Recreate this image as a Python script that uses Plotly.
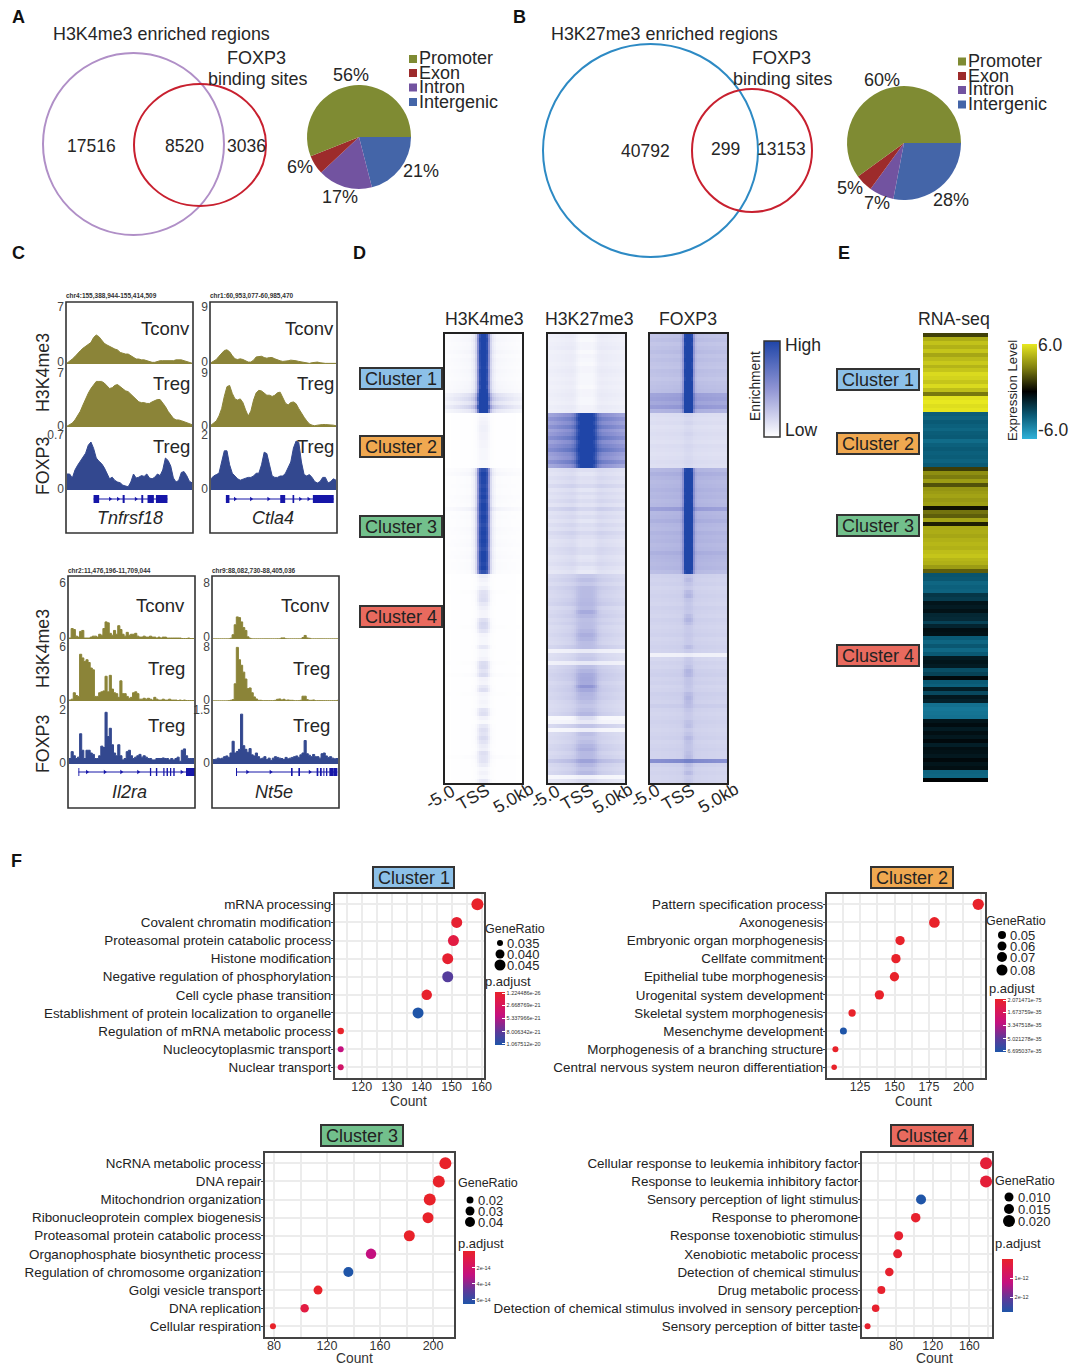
import plotly.graph_objects as go

W, H = 1080, 1370
FONT = "Liberation Sans"
INK = "#262626"

# ---------- panel A / B ----------
pie_labels = ["Intergenic", "Intron", "Exon", "Promoter"]
pie_colors = ["#4465a8", "#7253a0", "#9d2b2b", "#7f8b33"]
pie_a = [21, 17, 6, 56]
pie_b = [28, 7, 5, 60]
venn_a = ["17516", "8520", "3036"]
venn_b = ["40792", "299", "13153"]

# ---------- panel C tracks ----------
t1_tconv = [0.1,0.3,0.6,0.9,1.3,1.6,1.9,2.1,2.3,2.6,3.2,3.5,3.3,2.9,2.5,2.3,2.1,2.0,1.8,1.7,1.4,1.3,1.2,1.2,1.0,0.7,0.6,0.6,0.5,0.5,0.4,0.3,0.2,0.2,0.3,0.4,0.4,0.4,0.4,0.4,0.4,0.5,0.5,0.5,0.4,0.3,0.2,0.1]
t1_treg = [0.1,0.3,0.5,0.9,1.4,2.0,2.8,3.6,4.3,4.9,5.4,5.8,5.8,5.8,5.6,5.2,4.9,5.0,5.3,5.4,5.1,4.8,4.6,4.5,4.2,3.9,3.5,3.2,3.1,3.1,3.0,3.0,3.2,3.4,3.5,3.5,3.1,2.6,2.0,1.5,1.1,0.9,0.9,0.8,0.7,0.6,0.4,0.3]
t1_fox = [.20,.20,.15,.25,.31,.36,.40,.46,.56,.60,.52,.40,.36,.33,.28,.20,.14,.16,.12,.10,.09,.06,.05,.04,.10,.20,.15,.16,.18,.17,.20,.15,.14,.16,.20,.18,.25,.40,.37,.30,.15,.10,.12,.22,.23,.18,.11,.09]
t2_tconv = [0.2,0.4,0.7,1.2,1.7,2.1,2.2,1.9,1.3,0.8,0.7,0.8,0.7,0.5,0.3,0.3,0.6,1.1,1.2,1.2,1.0,0.9,1.0,1.0,0.8,0.6,0.5,0.4,0.4,0.5,0.6,0.6,0.5,0.4,0.3,0.2,0.1,0.1,0.2,0.3,0.3,0.2,0.1,0.1,0.1,0.1,0.1,0.1]
t2_treg = [0.3,0.6,1.0,1.8,3.0,5.0,6.6,6.8,5.5,4.6,4.4,4.6,4.0,2.8,1.8,2.6,4.4,5.6,6.0,5.9,5.5,5.2,5.2,5.0,5.2,5.6,5.7,4.8,3.9,3.6,4.0,4.1,3.8,3.0,2.2,1.6,1.0,0.5,0.3,0.2,0.3,0.4,0.4,0.4,0.4,0.3,0.3,0.2]
t2_fox = [0.4,0.5,0.55,0.6,1.0,1.4,1.4,0.9,0.6,0.5,0.4,0.35,0.4,0.42,0.45,0.45,0.5,0.6,0.6,0.9,1.35,1.3,0.9,0.5,0.45,0.45,0.5,0.5,0.6,0.8,1.0,1.5,1.75,1.7,1.0,0.55,0.5,0.55,0.45,0.3,0.25,0.3,0.45,0.45,0.25,0.3,0.4,0.35]
t3_tconv = [0.1,1.1,1.0,0.3,0.2,0.8,0.9,0.1,0.1,0.1,0.2,0.3,0.3,0.2,0.5,0.4,1.1,1.8,1.7,0.6,0.4,0.9,0.5,1.4,1.0,0.5,0.3,0.7,0.4,0.5,0.5,0.6,0.3,0.2,0.2,0.3,0.2,0.2,0.3,0.2,0.2,0.1,0.2,0.1,0.2,0.2,0.1,0.1,0.1,0.1,0.1,0.1,0.1,0.05,0.05,0.05,0.1,0.05,0.05,0.05]
t3_treg = [0.1,0.2,0.9,0.6,0.5,5.1,4.7,4.3,4.5,4.2,3.6,3.4,0.5,0.5,0.9,1.0,1.1,2.7,1.0,2.8,1.3,0.9,0.8,0.4,2.2,0.8,0.8,0.5,0.3,0.4,0.9,1.0,0.8,0.2,0.2,0.3,0.2,0.3,0.2,0.1,0.4,0.2,0.1,0.1,0.2,0.1,0.1,0.2,0.1,0.1,0.1,0.05,0.1,0.05,0.1,0.05,0.05,0.05,0.05,0.1]
t3_fox = [0.2,0.45,0.3,0.2,0.25,1.1,0.5,0.2,0.5,0.5,0.4,0.35,0.2,0.2,0.3,0.65,0.6,1.88,1.0,1.3,0.7,0.4,0.3,0.7,0.3,0.15,0.2,0.45,0.5,0.3,0.2,0.25,0.3,0.35,0.25,0.3,0.25,0.2,0.2,0.15,0.15,0.2,0.2,0.2,0.22,0.2,0.2,0.15,0.2,0.15,0.2,0.25,0.1,0.5,0.55,0.3,0.2,0.2,0.2,0.15]
t4_tconv = [.02,.02,.02,.02,.02,.02,.02,.02,.1,.6,2.0,3.1,3.0,2.4,1.6,1.2,.3,.1,.02,.02,.02,.02,.02,.02,.02,.02,.02,.02,.02,.02,.03,.03,.15,.15,.03,.02,.02,.02,.02,.02,.02,.02,.2,.5,.15,.1,.02,.02,.02,.02,.02,.02,.02,.02,.02,.02,.02,.02,.02,.02]
t4_treg = [.02,.02,.02,.02,.02,.02,.02,.05,.1,.2,2.5,7.8,6.0,5.2,4.2,3.2,1.8,1.9,1.2,.6,.3,.1,.1,.05,.05,.05,.05,.05,.05,.1,.25,.3,.15,.25,.1,.15,.1,.1,.05,.05,.05,.1,.7,.7,.2,.1,.1,.15,.05,.05,.05,.05,.05,.05,.05,.05,.05,.05,.05,.2]
t4_fox = [.12,.13,.16,.14,.16,.2,.22,.18,.3,.62,.3,.34,.4,1.36,.5,.4,.32,.42,.25,.22,.3,.2,.14,.16,.2,.12,.16,.1,.16,.2,.18,.16,.15,.12,.18,.14,.16,.18,.2,.22,.18,.25,.3,.64,.28,.24,.2,.26,.2,.2,.16,.28,.3,.22,.18,.2,.16,.14,.15,.12]

genes = {
    "Tnfrsf18": dict(exons=[(21.7,26.1),(44.6,46.2),(59.3,60.8),(64.2,69.2),(70.8,79.9)], arrows=[34.7,41,55]),
    "Ctla4": dict(exons=[(12.5,15.3),(55.3,59.2),(65,66.3),(81,97.4)], arrows=[19.7,32.4,46,71,77.6]),
    "Il2ra": dict(exons=[(8.2,8.9),(64.5,65.5),(69.2,70.3),(75,76),(77.6,78.7),(80.3,81.3),(82.9,84),(92.9,100)], arrows=[15,29,42,55.3,89.5]),
    "Nt5e": dict(exons=[(18.9,19.7),(62.2,63.5),(68,69.3),(82.4,83.7),(85,86.4),(87.7,88.5),(89.8,90.8),(92.4,95.5),(95.5,98.7)], arrows=[27.8,46.2,77]),
}
track_max = {"p1": (7, 7, 0.7), "p2": (9, 9, 2), "p3": (6, 6, 2), "p4": (8, 8, 1.5)}

# ---------- panel D heatmaps: row background / row peak (percent), top to bottom ----------
k4_bg = [8,9,7,8,10,7,9,8,7,9,8,7,9,10,12,30,38,26,44,22,
         1,1,1,1,1,1,1,1,1,1,1,1,1,1,
         6,9,4,4,5,4,4,6,5,4,12,4,5,4,4,6,5,4,5,6,4,5,6,4,5,5,4,
         1,1,1,1,2,1,1,1,1,1,1,1,1,2,1,1,1,1,1,1,1,1,2,1,1,3,1,1,1,1,2,1,1,1,1,1,1,1,1,1,1,1,1,1,1,1,3,1,1,1,1,1,1]
k4_pk = [92,96,95,94,96,97,95,94,92,96,95,94,96,90,96,95,97,95,96,94,
         3,4,5,6,6,5,5,4,4,3,3,3,2,2,
         88,92,94,95,90,95,92,94,90,96,88,92,95,94,90,92,95,94,96,92,90,95,94,96,92,95,88,
         8,5,3,6,12,14,15,10,6,4,4,14,18,16,12,4,3,3,10,3,3,5,14,16,12,14,5,4,10,14,3,3,4,3,12,14,5,2,10,14,12,16,12,8,6,14,10,12,8,3,5,3,10]
k27_bg = [10,9,10,11,9,10,10,9,10,11,10,9,10,9,10,11,10,9,11,10,
          58,68,60,70,58,64,74,60,68,76,62,58,70,56,
          19,17,20,18,23,17,20,18,21,17,25,18,20,17,21,18,23,20,17,18,21,20,17,18,20,17,15,
          23,25,22,26,24,23,25,27,22,24,26,23,25,22,23,25,23,22,26,8,20,21,9,24,26,28,27,24,26,27,25,26,23,22,23,25,4,6,24,5,22,23,22,25,26,23,25,34,25,23,25,5,15]
k27_pk = [-6,-6,-5,-6,-6,-5,-6,-6,-5,-6,-6,-5,-6,-6,-5,-6,-6,-5,-5,-4,
          44,38,42,36,44,40,32,42,36,30,42,44,36,44,
          -4,-5,-5,-4,-5,-5,-4,-5,-5,-4,-6,-5,-4,-5,-5,-4,-5,-5,-4,-5,-5,-4,-5,-5,-4,-5,-5,
          3,5,4,6,8,9,8,7,10,16,8,7,6,9,11,13,12,9,5,2,4,5,2,6,9,12,14,16,24,14,10,8,7,5,7,9,12,5,4,3,8,4,8,10,12,10,8,10,9,6,8,2,3]
fx_bg = [30,32,29,31,33,30,32,30,29,32,31,29,31,32,33,46,48,44,50,38,
         17,16,17,15,16,17,16,15,17,16,15,16,17,16,
         36,40,37,35,36,38,36,37,35,36,48,36,37,40,36,35,38,36,37,35,36,40,37,36,35,36,33,
         23,22,23,21,22,23,22,21,23,22,21,23,22,21,22,23,21,22,23,22,7,20,22,21,23,24,22,23,21,22,24,23,22,25,22,21,22,23,22,21,22,23,21,22,23,22,22,58,23,21,22,21,21]
fx_pk = [88,92,90,92,88,90,92,88,90,92,90,88,92,90,88,84,86,82,85,86,
         3,2,3,2,2,3,2,2,2,2,2,2,2,2,
         80,84,88,86,84,85,82,88,84,86,80,84,88,85,84,86,88,84,86,85,88,84,86,90,86,88,82,
         6,10,5,4,10,12,6,5,4,4,10,12,8,4,3,3,4,3,8,3,2,5,4,8,12,10,6,5,6,4,8,12,10,6,5,4,3,6,8,4,6,10,8,6,5,8,10,4,8,6,10,4,5]
edge_k4 = [.18,.2,.22,.24,.26,.28,.3,.32,.35,.38,.41,.44,.47,.5,.55,.6,.7,.85,1,1,1,1,1,.85,.7,.6,.55,.5,.47,.44,.41,.38,.35,.32,.3,.28,.26,.24,.22,.2,.18]
edge_k27 = [.72,.74,.75,.77,.78,.8,.82,.84,.86,.88,.9,.92,.94,.95,.96,.97,.98,.99,1,1,1,1,1,.99,.98,.97,.96,.95,.94,.92,.9,.88,.86,.84,.82,.8,.78,.77,.75,.74,.72]
edge_fx = [.92,.92,.92,.93,.93,.93,.94,.94,.95,.95,.96,.96,.97,.97,.98,.98,.99,.99,1,1,1,1,1,.99,.99,.98,.98,.97,.97,.96,.96,.95,.95,.94,.94,.93,.93,.93,.92,.92,.92]
core_k4 = [0,0,0,0,0,0,0,0,0,0,0,0,0,0,.02,.05,.15,.5,.9,1,1,1,.9,.5,.15,.05,.02,0,0,0,0,0,0,0,0,0,0,0,0,0,0]
core_k27 = [0,0,0,0,0,0,0,0,0,0,0,0,.03,.08,.25,.6,.85,1,1,1,1,1,1,1,.85,.6,.25,.08,.03,0,0,0,0,0,0,0,0,0,0,0,0]
core_fx = [0,0,0,0,0,0,0,0,0,0,0,0,0,0,0,0,.03,.2,.75,1,1,1,.75,.2,.03,0,0,0,0,0,0,0,0,0,0,0,0,0,0,0,0]

# ---------- panel E ----------
rna_z = [1.5,4.3,4.9,4.4,5.0,4.1,4.7,5.1,4.5,5.0,5.6,5.4,5.0,5.6,4.8,2.8,5.8,6.0,5.7,5.9,
         -3.1,-3.3,-3.0,-3.2,-3.4,-3.1,-3.0,-3.6,-3.2,-3.0,-3.2,-3.1,-3.3,-3.0,
         1.4,3.4,2.9,3.8,1.9,3.6,3.8,4.0,3.7,3.9,0.4,2.7,2.2,4.0,0.7,4.2,4.3,4.1,4.4,4.6,4.4,4.8,5.0,4.6,4.4,3.8,2.2,
         -2.8,-2.9,-3.4,-3.2,-3.3,-1.8,-2.0,-0.7,-0.9,-0.6,-1.3,-1.4,-2.2,-1.2,-0.5,-0.6,-3.0,-3.4,-2.9,-3.5,-3.0,-0.9,-0.7,-0.9,-2.6,-2.2,-0.3,-3.0,-3.2,-1.0,-2.4,-0.8,-1.1,-3.8,-4.0,-3.9,-3.8,-0.7,-0.4,-0.9,-0.5,-0.8,-0.3,-1.0,-0.5,-0.6,-0.8,-0.3,-0.7,-0.5,-3.3,-3.4,-0.1]

# ---------- panel F ----------
c1_terms = ["mRNA processing","Covalent chromatin modification","Proteasomal protein catabolic process","Histone modification","Negative regulation of phosphorylation","Cell cycle phase transition","Establishment of protein localization to organelle","Regulation of mRNA metabolic process","Nucleocytoplasmic transport","Nuclear transport"]
c1_count = [158.6,151.7,150.6,148.7,148.7,141.7,138.8,113,113,113]
c1_size = [12,11,11,11,11,10.5,11,6.5,6,6]
c1_col = [1,.97,.88,.97,.22,.99,0,1,.55,.68]
c2_terms = ["Pattern specification process","Axonogenesis","Embryonic organ morphogenesis","Cellfate commitment","Epithelial tube morphogenesis","Urogenital system development","Skeletal system morphogenesis","Mesenchyme development","Morphogenesis of a branching structure","Central nervous system neuron differentiation"]
c2_count = [210.7,178.9,154,151,149.9,139,119.2,112.9,107.1,106.2]
c2_size = [11.3,10.7,9.3,9.3,9.3,9.3,7.3,7,6,5.5]
c2_col = [1,1,1,1,1,1,1,0,1,1]
c3_terms = ["NcRNA metabolic process","DNA repair","Mitochondrion organization","Ribonucleoprotein complex biogenesis","Proteasomal protein catabolic process","Organophosphate biosynthetic process","Regulation of chromosome organization","Golgi vesicle transport","DNA replication","Cellular respiration"]
c3_count = [209.3,204.3,197.5,196.2,182.1,153.2,136.1,113.2,103.1,79.2]
c3_size = [12,12,12,11,11,10.5,10,9,8.5,6]
c3_col = [1,1,1,1,1,.55,0,1,.88,1]
c4_terms = ["Cellular response to leukemia inhibitory factor","Response to leukemia inhibitory factor","Sensory perception of light stimulus","Response to pheromone","Response toxenobiotic stimulus","Xenobiotic metabolic process","Detection of chemical stimulus","Drug metabolic process","Detection of chemical stimulus involved in sensory perception","Sensory perception of bitter taste"]
c4_count = [178.2,178.2,107.3,101.5,82.9,81.8,72.7,64,57.8,49]
c4_size = [12,12,10,9.5,9,9,8.5,8,7.5,6]
c4_col = [.93,.93,0,.98,.97,.97,.98,.98,.98,.98]

ratio_c1 = ["0.035","0.040","0.045"]
ratio_c2 = ["0.05","0.06","0.07","0.08"]
ratio_c3 = ["0.02","0.03","0.04"]
ratio_c4 = ["0.010","0.015","0.020"]
padj_c1 = ["1.067512e-20","8.006342e-21","5.337966e-21","2.668769e-21","1.224486e-26"]
padj_c2 = ["6.695037e-35","5.021278e-35","3.347518e-35","1.673759e-35","2.071471e-75"]
padj_c3 = ["6e-14","4e-14","2e-14"]
padj_c4 = ["2e-12","1e-12"]

CL = {1: "#8cc0e8", 2: "#f0a850", 3: "#72c08c", 4: "#e96a5e"}
DOT_SCALE = [[0, "#1f55a8"], [.25, "#5c3a9a"], [.55, "#c4107f"], [.85, "#e01a48"], [1, "#e8222a"]]
BLUE_SCALE = [[0, "#ffffff"], [.5, "#9095d4"], [1, "#1f45a8"]]
EXPR_SCALE = [[0, "#2fb2da"], [.25, "#0a5a75"], [.5, "#000000"], [.75, "#80800f"], [1, "#e8e820"]]

fig = go.Figure()
shapes, annots = [], []
axn = [0]


def X(x):
    return x / W


def Y(y):
    return 1 - y / H


def T(x, y, text, size=17, anchor="center", color=INK, angle=0, bold=False, italic=False):
    t = text
    if bold:
        t = f"<b>{t}</b>"
    if italic:
        t = f"<i>{t}</i>"
    if anchor == "left":
        x -= 2
    elif anchor == "right":
        x += 2
    annots.append(dict(x=X(x), y=Y(y), xref="paper", yref="paper", text=t, showarrow=False,
                       xanchor=anchor, yanchor="middle", textangle=angle,
                       font=dict(family=FONT, size=size, color=color)))


def rect(x0, y0, x1, y1, fill=None, line="#333", lw=1.5):
    shapes.append(dict(type="rect", xref="paper", yref="paper", x0=X(x0), x1=X(x1), y0=Y(y0), y1=Y(y1),
                       fillcolor=fill or "rgba(0,0,0,0)", line=dict(color=line, width=lw), layer="above"))


def circ(x0, y0, x1, y1, color, lw=2, fill=None):
    shapes.append(dict(type="circle", xref="paper", yref="paper", x0=X(x0), x1=X(x1), y0=Y(y0), y1=Y(y1),
                       fillcolor=fill or "rgba(0,0,0,0)", line=dict(color=color, width=lw), layer="above"))


def axes(x0, y0, x1, y1, xa=None, ya=None):
    axn[0] += 1
    n = axn[0]
    xd = dict(domain=[X(x0), X(x1)], anchor=f"y{n}", visible=False)
    yd = dict(domain=[Y(y1), Y(y0)], anchor=f"x{n}", visible=False)
    xd.update(xa or {})
    yd.update(ya or {})
    fig.layout[f"xaxis{n}"] = xd
    fig.layout[f"yaxis{n}"] = yd
    return f"x{n}", f"y{n}"


def label(x0, y0, x1, y1, k):
    rect(x0, y0, x1, y1, fill=CL[k], line="#333", lw=2)
    T((x0 + x1) / 2, (y0 + y1) / 2 + .5, f"Cluster {k}", 18, color="#222")


# ---------- A, B ----------
T(18, 17, "A", 18, bold=True, color="#111")
T(519, 17, "B", 18, bold=True, color="#111")
T(53, 34, "H3K4me3 enriched regions", 17.9, anchor="left")
T(256, 58, "FOXP3", 18)
T(258, 79, "binding sites", 17.9)
circ(43, 53, 224, 235, "#b08fc7")
circ(134, 84, 266, 206, "#c8202f")
T(91, 146, venn_a[0], 17.5)
T(184, 146, venn_a[1], 17.5)
T(246, 146, venn_a[2], 17.5)
T(551, 34, "H3K27me3 enriched regions", 17.9, anchor="left")
T(781, 58, "FOXP3", 18)
T(783, 79, "binding sites", 17.9)
circ(543, 44, 758, 257, "#2d8ac4")
circ(692, 89, 812, 212, "#c8202f")
T(645, 151, venn_b[0], 17.5)
T(725, 149, venn_b[1], 17.5)
T(781, 149, venn_b[2], 17.5)


def pie(vals, x0, y0, x1, y1):
    fig.add_trace(go.Pie(values=vals, labels=pie_labels, sort=False, direction="clockwise", rotation=90,
                         textinfo="none", hoverinfo="label+percent", showlegend=False,
                         marker=dict(colors=pie_colors, line=dict(width=0)),
                         domain=dict(x=[X(x0), X(x1)], y=[Y(y1), Y(y0)])))


pie(pie_a, 307, 85, 411, 189)
pie(pie_b, 847, 86, 961, 200)
for tx, ty, s in [(351, 75, "56%"), (300, 167, "6%"), (340, 197, "17%"), (421, 171, "21%"),
                  (882, 80, "60%"), (850, 188, "5%"), (877, 203, "7%"), (951, 200, "28%")]:
    T(tx, ty, s, 18)
for lx, tops in [(409, (59, 73, 87.5, 102)), (958, (61.5, 76, 90, 104.5))]:
    for name, col, ly in zip(["Promoter", "Exon", "Intron", "Intergenic"],
                             ["#7f8b33", "#9d2b2b", "#7253a0", "#4465a8"], tops):
        rect(lx, ly - 4, lx + 8, ly + 4, fill=col, line=col, lw=0)
        T(lx + 10, ly - .5, name, 18, anchor="left")

# ---------- C ----------
T(18, 253, "C", 18, bold=True, color="#111")
OLIVE, NAVY = "#8b8438", "#33488f"


def track(x0, x1, top, base, vals, vmax, color, shape):
    xa, ya = axes(x0, top, x1, base,
                  xa=dict(range=[0, len(vals) - 1]),
                  ya=dict(visible=True, range=[0, vmax], tickvals=[vmax * .03, vmax * .98], ticktext=["0", str(vmax)],
                          showgrid=False, zeroline=False, showline=False, ticks="", ticklabelstandoff=2,
                          tickfont=dict(family=FONT, size=12, color="#444")))
    fig.add_trace(go.Scatter(x=list(range(len(vals))), y=vals, xaxis=xa, yaxis=ya, mode="lines",
                             line=dict(color=color, width=1, shape=shape), fill="tozeroy", fillcolor=color,
                             showlegend=False, hoverinfo="skip"))


def gene(x0, x1, gy, name):
    g = genes[name]
    xa, ya = axes(x0, gy - 6, x1, gy + 6, xa=dict(range=[0, 100]), ya=dict(range=[-1, 1]))
    col = "#1616a8"
    fig.add_trace(go.Scatter(x=[g["exons"][0][0], g["exons"][-1][1]], y=[0, 0], xaxis=xa, yaxis=ya, mode="lines",
                             line=dict(color=col, width=1), showlegend=False, hoverinfo="skip"))
    ex, ey = [], []
    for a, b in g["exons"]:
        ex += [a, b, None]
        ey += [0, 0, None]
    fig.add_trace(go.Scatter(x=ex, y=ey, xaxis=xa, yaxis=ya, mode="lines",
                             line=dict(color=col, width=8), showlegend=False, hoverinfo="skip"))
    fig.add_trace(go.Scatter(x=g["arrows"], y=[0] * len(g["arrows"]), xaxis=xa, yaxis=ya, mode="markers",
                             marker=dict(symbol="triangle-right", size=4, color=col, opacity=1), showlegend=False, hoverinfo="skip"))


panels = [
    (66, 193, 302, 533, "chr4:155,388,944-155,414,509", "Tnfrsf18", (t1_tconv, t1_treg, t1_fox), track_max["p1"],
     [(306, 364), (372, 427), (434, 490)], 499, 518, "linear", 296, (328, 383, 447), 3, 130),
    (210, 337, 302, 533, "chr1:60,953,077-60,985,470", "Ctla4", (t2_tconv, t2_treg, t2_fox), track_max["p2"],
     [(306, 364), (372, 427), (434, 490)], 499, 518, "linear", 296, (328, 383, 447), 3, 273),
    (68, 195, 576, 808, "chr2:11,476,196-11,709,044", "Il2ra", (t3_tconv, t3_treg, t3_fox), track_max["p3"],
     [(582, 639), (646, 701), (709, 764)], 772, 792, "hv", 571, (606, 668, 725), 10, 129),
    (212, 339, 576, 808, "chr9:88,082,730-88,405,036", "Nt5e", (t4_tconv, t4_treg, t4_fox), track_max["p4"],
     [(582, 639), (646, 701), (709, 764)], 772, 792, "hv", 571, (606, 668, 725), 9, 274),
]
for x0, x1, y0, y1, coord, gname, vals, vm, spans, gy, ty, shp, cy, lab_y, inset, gx in panels:
    for v, m, (a, b), c in zip(vals, vm, spans, (OLIVE, OLIVE, NAVY)):
        track(x0 + 1, x1 - 1, a, b, v, m, c, shp)
    gene(x0, x1, gy, gname)
    rect(x0, y0, x1, y1, line="#333", lw=1.6)
    T(x0, cy, coord, 6.5, anchor="left", bold=True, color="#333")
    T(gx, ty, gname, 18, italic=True)
    for ly, s in zip(lab_y, ("Tconv", "Treg", "Treg")):
        T(x1 - inset, ly, s, 18.5, anchor="right")
T(43, 373, "H3K4me3", 17.8, angle=-90)
T(43, 466, "FOXP3", 17.8, angle=-90)
T(43, 649, "H3K4me3", 17.8, angle=-90)
T(43, 744, "FOXP3", 17.8, angle=-90)

# ---------- D ----------
T(359, 253, "D", 18, bold=True, color="#111")
frame = dict(visible=True, showline=True, mirror=True, linecolor="#222", linewidth=2, showticklabels=False,
             ticks="", showgrid=False, zeroline=False)


def heat(x0, x1, bg, pk, edge, core, head, hx, ticks, scale=False):
    z = [[min(100, max(0, b * e + p * c)) / 100 for e, c in zip(edge, core)] for b, p in zip(bg, pk)]
    xa, ya = axes(x0, 334, x1, 783, xa=dict(frame, range=[-.5, 40.5]),
                  ya=dict(frame, range=[len(bg) - .5, -.5]))
    cb = dict(x=X(764), xanchor="left", xpad=0, thickness=16, lenmode="pixels", len=96, y=Y(341), yanchor="top",
              ypad=0, outlinecolor="#333", outlinewidth=1.5, showticklabels=False, ticks="")
    fig.add_trace(go.Heatmap(z=z, xaxis=xa, yaxis=ya, colorscale=BLUE_SCALE, zmin=0, zmax=1,
                             showscale=scale, colorbar=cb, hoverinfo="skip"))
    T(hx, 319, head, 17.7)
    for (tx, ty), s in zip(ticks, ["-5.0", "TSS", "5.0kb"]):
        T(tx, ty, s, 17.5, angle=-30)


heat(445, 522, k4_bg, k4_pk, edge_k4, core_k4, "H3K4me3", 484, [(440, 797), (473, 797), (513, 798)], scale=True)
heat(548, 625, k27_bg, k27_pk, edge_k27, core_k27, "H3K27me3", 589, [(545, 797), (577, 797), (613, 798)])
heat(650, 727, fx_bg, fx_pk, edge_fx, core_fx, "FOXP3", 688, [(645, 796), (678, 797), (718, 798)])
for k, (a, b) in zip((1, 2, 3, 4), [(368, 389), (436, 457), (516, 537), (606, 627)]):
    label(360, a, 442, b, k)
T(755, 386, "Enrichment", 13.8, angle=-90)
T(785, 345, "High", 17.5, anchor="left")
T(785, 430, "Low", 17.5, anchor="left")

# ---------- E ----------
T(844, 253, "E", 18, bold=True, color="#111")
xa, ya = axes(923, 333, 988, 782, xa=dict(range=[-.5, .5]), ya=dict(range=[len(rna_z) - .5, -.5]))
fig.add_trace(go.Heatmap(z=[[v] for v in rna_z], xaxis=xa, yaxis=ya, colorscale=EXPR_SCALE, zmin=-6, zmax=6,
                         hoverinfo="skip",
                         colorbar=dict(x=X(1022), xanchor="left", xpad=0, thickness=15, lenmode="pixels", len=95,
                                       y=Y(344), yanchor="top", ypad=0, outlinewidth=0, showticklabels=False, ticks="")))
T(954, 319, "RNA-seq", 17.7)
T(1012, 391, "Expression Level", 13.3, angle=-90)
T(1038, 345, "6.0", 17.5, anchor="left")
T(1038, 430, "-6.0", 17.5, anchor="left")
for k, (a, b) in zip((1, 2, 3, 4), [(369, 390), (433, 454), (515, 536), (645, 666)]):
    label(837, a, 919, b, k)

# ---------- F ----------
T(16, 861, "F", 18, bold=True, color="#111")


def dotplot(box, xr, major, terms, counts, sizes, cols, cbox, tickv, tickt, k, lab_box, count_xy):
    x0, y0, x1, y1 = box
    xa, ya = axes(x0, y0, x1, y1,
                  xa=dict(visible=True, range=xr, tickvals=major, showgrid=True, gridcolor="#ececec", gridwidth=2,
                          zeroline=False, showline=True, mirror=True, linecolor="#444", linewidth=2,
                          ticks="outside", ticklen=2, tickcolor="#444", ticklabelstandoff=-6,
                          tickfont=dict(family=FONT, size=12.5, color="#333"),
                          minor=dict(dtick=(major[1] - major[0]) / 2, tick0=major[0], showgrid=True, gridcolor="#ececec", gridwidth=2, ticks="")),
                  ya=dict(visible=True, type="category", categoryorder="array", categoryarray=terms,
                          range=[9.59, -.57], showgrid=True, gridcolor="#ececec", gridwidth=2, zeroline=False,
                          showline=True, mirror=True, linecolor="#444", linewidth=2,
                          ticks="outside", ticklen=2, tickcolor="#444", ticklabelstandoff=-3,
                          tickfont=dict(family=FONT, size=13.4, color="#222")))
    cx0, cy0, cx1, cy1 = cbox
    fig.add_trace(go.Scatter(x=counts, y=terms, xaxis=xa, yaxis=ya, mode="markers", cliponaxis=False,
                             showlegend=False,
                             marker=dict(size=sizes, color=cols, cmin=0, cmax=1, colorscale=DOT_SCALE, opacity=1,
                                         line=dict(width=0), showscale=True,
                                         colorbar=dict(x=X(cx0), xanchor="left", xpad=0, thickness=cx1 - cx0,
                                                       lenmode="pixels", len=cy1 - cy0, y=Y(cy0), yanchor="top", ypad=0,
                                                       outlinewidth=0, tickvals=tickv, ticktext=tickt, ticks="inside",
                                                       ticklen=3, tickcolor="white",
                                                       tickfont=dict(family=FONT, size=5.5, color="#333")))))
    label(*lab_box, k)
    T(count_xy[0], count_xy[1] + 1, "Count", 13.8, color="#333")


def ratio_key(gx, gy, dx, ys, rs, lx, labs, px, py):
    T(gx, gy, "GeneRatio", 12.5)
    for yy, r, s in zip(ys, rs, labs):
        circ(dx - r, yy - r, dx + r, yy + r, "#000", lw=0, fill="#000")
        T(lx, yy + .5, s, 13, anchor="left")
    T(px, py, "p.adjust", 13)


dotplot((335, 894, 484, 1078), [111.1, 160.8], [120, 130, 140, 150, 160], c1_terms, c1_count, c1_size, c1_col,
        (495, 992, 505, 1045), [.02, .25, .5, .75, .98], padj_c1, 1, (373, 867, 454, 888), (408, 1100))
ratio_key(515, 929, 500, [943, 954, 965], [3, 4.5, 5.5], 507, ratio_c1, 508, 981)
dotplot((827, 894, 985, 1078), [101, 215.6], [125, 150, 175, 200], c2_terms, c2_count, c2_size, c2_col,
        (995, 999, 1006, 1052), [.02, .25, .5, .75, .98], padj_c2, 2, (871, 867, 953, 888), (913, 1100))
ratio_key(1016, 921, 1002, [935, 946, 957, 970], [4, 4.5, 5, 5.5], 1010, ratio_c2, 1012, 988)
dotplot((265, 1153, 454, 1337), [73.2, 215.8], [80, 120, 160, 200], c3_terms, c3_count, c3_size, c3_col,
        (463, 1251, 475, 1304), [.08, .38, .68], padj_c3, 3, (321, 1125, 403, 1146), (354, 1357))
ratio_key(488, 1183, 470, [1200, 1211, 1222], [3.5, 4.5, 5], 478, ratio_c3, 481, 1243)
dotplot((862, 1153, 992, 1337), [42.9, 184.7], [80, 120, 160], c4_terms, c4_count, c4_size, c4_col,
        (1002, 1259, 1013, 1312), [.28, .64], padj_c4, 4, (891, 1125, 973, 1146), (934, 1357))
ratio_key(1025, 1181, 1009, [1197, 1209, 1221], [4.5, 5, 6], 1018, ratio_c4, 1018, 1243)

fig.update_layout(width=W, height=H, margin=dict(l=0, r=0, t=0, b=0, autoexpand=False), paper_bgcolor="white",
                  plot_bgcolor="rgba(0,0,0,0)", shapes=shapes, annotations=annots, showlegend=False,
                  font=dict(family=FONT))
fig.write_html("out.html", config=dict(displayModeBar=False), post_script="document.body.style.margin='0';")
